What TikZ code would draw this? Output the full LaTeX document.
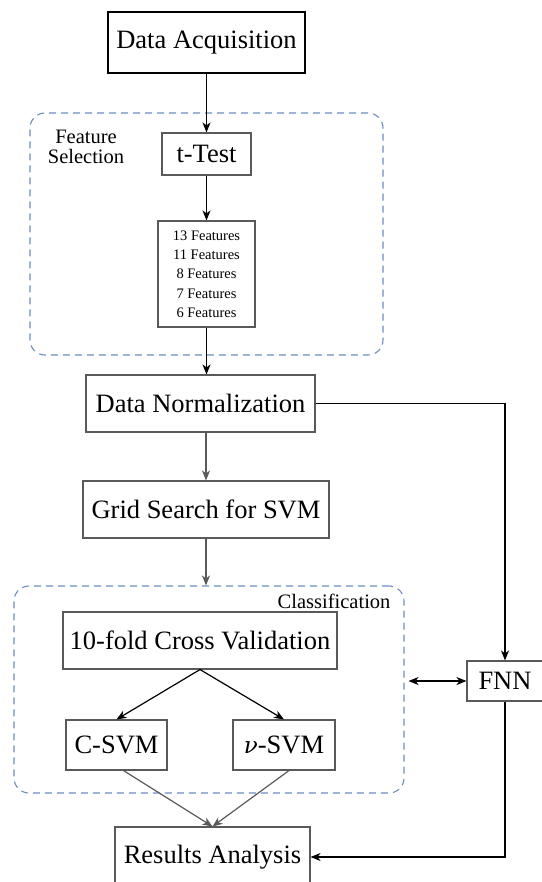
\documentclass[tikz,border=0pt]{standalone}
\usepackage{fontspec}
\setmainfont{Liberation Serif}
\usetikzlibrary{arrows.meta}
\definecolor{dashblue}{HTML}{6C8EBF}
\definecolor{boxgray}{HTML}{595959}
\begin{document}
\begin{tikzpicture}[x=1pt,y=-1pt,>={Stealth[length=10pt,width=8pt,inset=3pt]}]
\def\bigfont{\fontsize{26.5}{31}\selectfont}
\tikzset{base/.style={draw=boxgray,line width=1.1pt,fill=white,inner sep=0pt},
box/.style={base,font=\bigfont},
group/.style={draw=dashblue,line width=1.1pt,dash pattern=on 7pt off 5pt,rounded corners=15pt,inner sep=0pt},
lbl/.style={font=\fontsize{20.5}{23}\selectfont,align=center},
flow/.style={->,line width=1.2pt,draw=black},gflow/.style={flow,draw=boxgray}}
\useasboundingbox (0,0) rectangle (541,882);
% dashed groups
\node[group,minimum width=353pt,minimum height=242pt] at (206.5,234) (FSEL) {};
\node[group,minimum width=390pt,minimum height=207pt] at (209,689.5) (CLS) {};
\node[lbl] at (86,147) (FSELL) {Feature\\[-3pt]Selection};
\node[lbl,anchor=east] at (394,601) (CLSL) {Classification};
% boxes
\node[box,draw=black,minimum width=197pt,minimum height=61pt] at (206.5,42.5) (ACQ) {Data Acquisition};
\node[box,minimum width=89pt,minimum height=42pt] at (206.5,154) (TT) {t-Test};
\node[base,minimum width=97pt,minimum height=106pt,align=center,font=\fontsize{14.5}{19.3}\selectfont] at (206.5,274) (FEAT) {13 Features\\11 Features\\8 Features\\7 Features\\6 Features};
\node[box,minimum width=229pt,minimum height=57pt] at (200.5,403.5) (NORM) {Data Normalization};
\node[box,minimum width=246pt,minimum height=57pt] at (206,509.5) (GRID) {Grid Search for SVM};
\node[box,minimum width=274pt,minimum height=57pt] at (200,640.5) (CV) {10-fold Cross Validation};
\node[box,minimum width=101pt,minimum height=50pt] at (116.5,745) (CSVM) {C-SVM};
\node[box,minimum width=102pt,minimum height=50pt] at (284,745) (NSVM) {\fontspec{DejaVu Serif}\fontsize{23}{27}\selectfont\itshape ν\normalfont\bigfont-SVM};
\node[box,minimum width=76pt,minimum height=40pt] at (505,681) (FNN) {FNN};
\node[box,minimum width=195pt,minimum height=60pt] at (212.5,857) (RES) {Results Analysis};
% connectors
\draw[flow] (ACQ) -- (TT);
\draw[flow] (TT) -- (FEAT);
\draw[flow] (FEAT.south) -- (FEAT.south |- NORM.north);
\draw[gflow] (GRID.north |- NORM.south) -- (GRID.north);
\draw[gflow] (GRID.south) -- (GRID.south |- CLS.north);
\draw[flow] (CV.south) -- (CSVM.north);
\draw[flow] (CV.south) -- (NSVM.north);
\draw[gflow] ([xshift=7pt]CSVM.south) -- (RES.north);
\draw[gflow] ([xshift=5pt]NSVM.south) -- (RES.north);
\draw[flow] (NORM.east) -| (FNN.north);
\draw[flow] (FNN.south) |- (RES.east);
\draw[flow,<->] ([xshift=4pt]CLS.east |- FNN.west) -- (FNN.west);
\end{tikzpicture}
\end{document}
